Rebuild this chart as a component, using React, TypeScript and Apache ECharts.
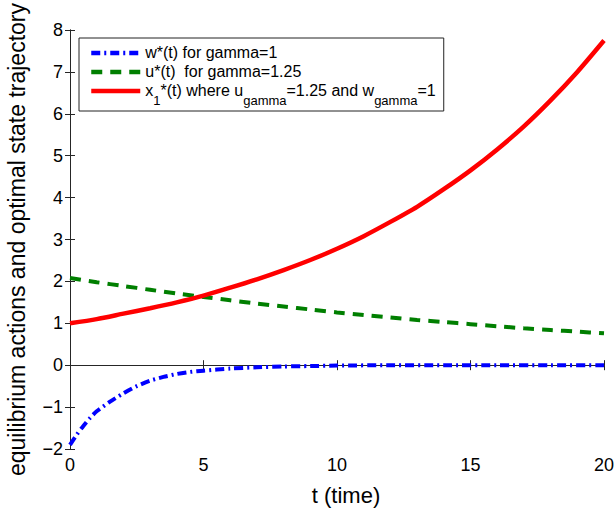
import React, { useEffect, useRef } from 'react';
import * as echarts from 'echarts';

// time samples and series values
const tW = [0, 0.25, 0.5, 0.75, 1, 1.5, 2, 2.5, 3, 3.5, 4, 4.5, 5, 6, 7, 8, 9, 10, 12, 14, 16, 18, 20];
const wVals = [-1.9, -1.66, -1.45, -1.26, -1.1, -0.87, -0.67, -0.5, -0.37, -0.28, -0.21, -0.16, -0.13, -0.08, -0.05, -0.03, -0.02, -0.01, 0, 0, 0, 0, 0];

const tU = [0, 1, 2, 3, 4, 5, 6, 7, 8, 9, 10, 11, 12, 13, 14, 15, 16, 17, 18, 19, 20];
const uVals = [2.08, 1.98, 1.89, 1.8, 1.71, 1.63, 1.55, 1.47, 1.4, 1.33, 1.26, 1.2, 1.14, 1.08, 1.03, 0.98, 0.93, 0.88, 0.84, 0.8, 0.76];
const x1Vals = [1.0, 1.1, 1.23, 1.36, 1.5, 1.66, 1.85, 2.05, 2.27, 2.51, 2.78, 3.08, 3.42, 3.78, 4.2, 4.65, 5.15, 5.7, 6.32, 7.0, 7.75];

const seriesNames = ['w*(t) for gamma=1', 'u*(t)  for gamma=1.25', 'x1*(t) where ugamma=1.25 and wgamma=1'];
const xRange = { min: 0, max: 20, interval: 5 };
const yRange = { min: -2, max: 8, interval: 1 };

export default function App() {
  const ref = useRef<HTMLDivElement>(null);
  useEffect(() => {
    const chart = echarts.init(ref.current!, null, { renderer: 'svg' });
    const font = 'Liberation Sans, Arial, Helvetica, sans-serif';
    const axisColor = '#262626';
    const fmt = (v: number) => (v < 0 ? '\u2212' + Math.abs(v) : String(v));
    const line = { show: true, lineStyle: { color: axisColor, width: 1 } };
    const tick = { show: true, inside: true, length: 5, lineStyle: { color: axisColor, width: 1 } };
    const label = { fontSize: 18, color: '#000', fontFamily: font, formatter: fmt };

    const option: any = {
      animation: false,
      backgroundColor: '#ffffff',
      grid: { left: 70, right: 11, top: 30, bottom: 65, containLabel: false, outerBoundsMode: 'none' },
      xAxis: [
        {
          type: 'value', position: 'bottom', ...xRange,
          axisLine: line, axisTick: tick, splitLine: { show: false },
          axisLabel: { ...label, margin: 7 },
          name: 't (time)', nameLocation: 'middle', nameGap: 35,
          nameTextStyle: { fontSize: 22, color: '#000', fontFamily: font, padding: [0, 0, 0, 18] },
        },
        {
          type: 'value', position: 'top', ...xRange,
          axisLine: line, axisTick: tick, splitLine: { show: false }, axisLabel: { show: false },
        },
      ],
      yAxis: [
        {
          type: 'value', position: 'left', ...yRange,
          axisLine: line, axisTick: tick, splitLine: { show: false },
          axisLabel: { ...label, margin: 7 },
          name: 'equilibrium actions and optimal state trajectory', nameLocation: 'middle', nameGap: 42,
          nameTextStyle: { fontSize: 23, color: '#000', fontFamily: font },
        },
        {
          type: 'value', position: 'right', ...yRange,
          axisLine: line, axisTick: tick, splitLine: { show: false }, axisLabel: { show: false },
        },
      ],
      legend: {
        orient: 'vertical', left: 79, top: 38,
        padding: [6, 8, 4, 10], itemGap: 3, itemWidth: 49, itemHeight: 14,
        backgroundColor: '#ffffff', borderColor: '#222222', borderWidth: 1, borderRadius: 0,
        itemStyle: { opacity: 0, borderWidth: 0 },
        lineStyle: { width: 4.5, cap: 'butt' },
        textStyle: {
          fontSize: 16, color: '#000', fontFamily: font,
          rich: {
            n: { fontSize: 16, lineHeight: 18, verticalAlign: 'top', fontFamily: font, color: '#000' },
            s: { fontSize: 13, lineHeight: 13, padding: [12, 0, 0, 0], verticalAlign: 'top', fontFamily: font, color: '#000' },
          },
        },
        data: seriesNames,
        formatter: (name: string) => {
          if (name === seriesNames[2]) {
            return '{n|x}{s|1}{n|*(t) where u}{s|gamma}{n|=1.25 and w}{s|gamma}{n|=1}';
          }
          return '{n|' + name + '}';
        },
      },
      series: [
        {
          name: seriesNames[0], type: 'line', showSymbol: false, symbol: 'none',
          smooth: 0.25,
          data: tW.map((t, i) => [t, wVals[i]]),
          lineStyle: { color: '#0000ff', width: 4, type: [9, 4, 2, 4], cap: 'butt' },
          itemStyle: { color: '#0000ff' },
        },
        {
          name: seriesNames[1], type: 'line', showSymbol: false, symbol: 'none',
          smooth: 0.25,
          data: tU.map((t, i) => [t, uVals[i]]),
          lineStyle: { color: '#007f00', width: 4, type: [11, 8], cap: 'butt' },
          itemStyle: { color: '#007f00' },
        },
        {
          name: seriesNames[2], type: 'line', showSymbol: false, symbol: 'none',
          smooth: 0.25,
          data: tU.map((t, i) => [t, x1Vals[i]]),
          lineStyle: { color: '#ff0000', width: 4.5 },
          itemStyle: { color: '#ff0000' },
        },
      ],
    };
    chart.setOption(option);
    return () => chart.dispose();
  }, []);
  return <div ref={ref} style={{ position: 'fixed', left: 0, top: 0, width: 615, height: 514 }} />;
}
